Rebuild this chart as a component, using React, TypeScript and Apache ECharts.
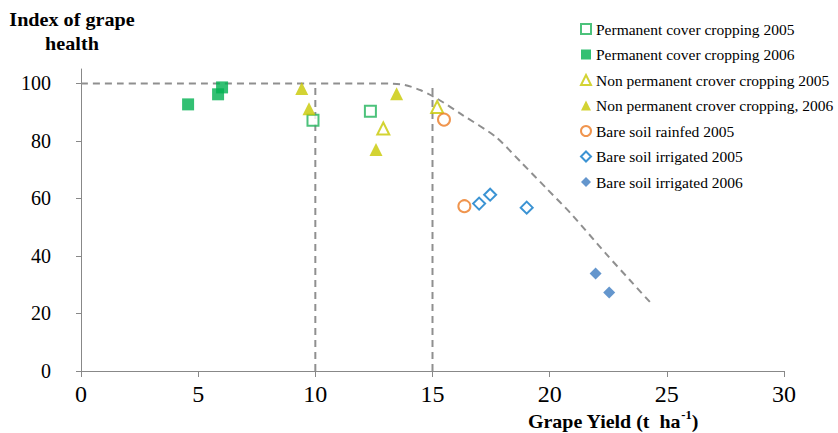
import React, { useEffect, useRef } from "react";
import * as echarts from "echarts";

const permanent2005: [number, number][] = [[9.9, 87.2], [12.35, 90.3]];
const permanent2006: [number, number][] = [[4.57, 92.7], [5.85, 96.2], [6.02, 98.6]];
const nonPermanent2005: [number, number][] = [[12.9, 84.3], [15.2, 91.8]];
const nonPermanent2006: [number, number][] = [[9.42, 98.2], [9.73, 91.2], [13.47, 96.4], [12.59, 77.0]];
const bareRainfed2005: [number, number][] = [[15.49, 87.4], [16.36, 57.3]];
const bareIrrigated2005: [number, number][] = [[16.99, 58.2], [17.46, 61.3], [19.02, 56.8]];
const bareIrrigated2006: [number, number][] = [[21.96, 33.9], [22.54, 27.3]];

const boundaryCurve: [number, number][] = [
  [0, 100], [12.5, 100], [13.2, 99.9], [13.8, 99.5], [14.5, 97.6], [15.2, 94.7], [16.3, 88.9],
  [17.7, 81.4], [18.8, 72.4], [19.9, 63.2], [20.9, 54.8], [22.4, 40.8], [23.4, 31.8], [24.4, 22.9],
];
const threshold10: [number, number][] = [[10, 0], [10, 100]];
const threshold15: [number, number][] = [[15, 0], [15, 100]];

const yTicks = [0, 20, 40, 60, 80, 100];
const seriesNames = [
  "Permanent cover cropping 2005",
  "Permanent cover cropping 2006",
  "Non permanent crover cropping 2005",
  "Non permanent crover cropping, 2006",
  "Bare soil rainfed 2005",
  "Bare soil irrigated 2005",
  "Bare soil irrigated 2006",
];

const FONT = "Liberation Serif";

export default function App() {
  const ref = useRef<HTMLDivElement>(null);
  useEffect(() => {
    if (!ref.current) return;
    const chart = echarts.init(ref.current, undefined, { renderer: "svg" });
    const dash = { color: "#8f8f8f", width: 2, type: [7, 5] as number[] };
    const lineSeries = (data: [number, number][], smooth: boolean) => ({
      type: "line",
      data,
      symbol: "none",
      smooth: smooth ? 0.25 : false,
      lineStyle: dash,
      silent: true,
      z: 1,
    });
    const scatter = (name: string, data: [number, number][], symbol: string, color: string, size: number) => ({
      name,
      type: "scatter",
      data,
      symbol,
      symbolSize: size,
      itemStyle: symbol.startsWith("empty")
        ? { color, borderColor: color, borderWidth: 2 }
        : { color },
      z: 3,
    });
    chart.setOption({
      animation: false,
      textStyle: { fontFamily: FONT },
      grid: { left: 81, right: 54, top: 69, bottom: 62 },
      legend: {
        data: seriesNames,
        orient: "vertical",
        left: 580,
        top: 21,
        padding: 0,
        itemWidth: 10,
        itemHeight: 10,
        itemGap: 9.5,
        textStyle: { fontFamily: FONT, fontSize: 15.5, color: "#000", lineHeight: 15.5 },
      },
      graphic: [
        {
          type: "text",
          x: 72,
          y: 8,
          scaleX: 1.12,
          style: {
            text: "Index of grape\nhealth",
            font: `bold 18px ${FONT}`,
            lineHeight: 24,
            align: "center",
            fill: "#000",
          },
        },
        {
          type: "text",
          x: 528,
          y: 409,
          scaleX: 1.05,
          style: {
            text: "{n|Grape Yield (t  ha}{s|-1}{n|)}",
            rich: {
              n: { font: `bold 19px ${FONT}`, fill: "#000", verticalAlign: "bottom", lineHeight: 22 },
              s: { font: `bold 12px ${FONT}`, fill: "#000", verticalAlign: "top", lineHeight: 22, padding: [0, 0, 10, 0] },
            },
          },
        },
      ],
      xAxis: {
        type: "value",
        min: 0,
        max: 30,
        interval: 5,
        splitLine: { show: false },
        axisLine: { onZero: false, lineStyle: { color: "#888", width: 1 } },
        axisTick: { show: true, length: 6, lineStyle: { color: "#888" } },
        axisLabel: { color: "#000", fontSize: 24, margin: 11, fontFamily: FONT },
      },
      yAxis: {
        type: "value",
        min: 0,
        max: 105,
        interval: 20,
        splitLine: { show: false },
        axisLine: { show: true, lineStyle: { color: "#888", width: 1 } },
        axisTick: { show: true, length: 5, lineStyle: { color: "#888" }, customValues: yTicks },
        axisLabel: {
          color: "#000",
          fontSize: 20,
          margin: 30,
          fontFamily: FONT,
          formatter: (v: number) => (yTicks.includes(v) ? String(v) : ""),
        },
      },
      series: [
        lineSeries(boundaryCurve, true),
        lineSeries(threshold10, false),
        lineSeries(threshold15, false),
        scatter(seriesNames[0], permanent2005, "emptyRect", "#1fb35a", 11),
        scatter(seriesNames[1], permanent2006, "rect", "#00b050", 12),
        scatter(seriesNames[2], nonPermanent2005, "emptyTriangle", "#c8c800", 12),
        scatter(seriesNames[3], nonPermanent2006, "triangle", "#c8c800", 13),
        scatter(seriesNames[4], bareRainfed2005, "emptyCircle", "#ec7a22", 12),
        scatter(seriesNames[5], bareIrrigated2005, "emptyDiamond", "#0a78c8", 12),
        scatter(seriesNames[6], bareIrrigated2006, "diamond", "#3d7cc0", 12),
      ],
    });
    return () => chart.dispose();
  }, []);
  return (
    <div
      ref={ref}
      style={{ position: "fixed", left: 0, top: 0, width: 838, height: 433, background: "#fff" }}
    />
  );
}
